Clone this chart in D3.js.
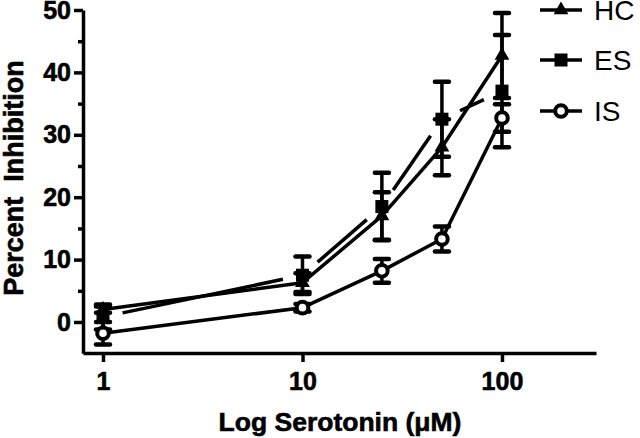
<!DOCTYPE html>
<html>
<head>
<meta charset="utf-8">
<script src="https://cdn.jsdelivr.net/npm/d3@7"></script>
<style>
  html, body { margin: 0; padding: 0; background: #fff; }
  svg { display: block; }
  text { font-family: "Liberation Sans", Arial, Helvetica, sans-serif; }
</style>
</head>
<body>
<svg id="chart" width="640" height="438"></svg>
<script>
// ---- data ----
const concentrations = [1, 10, 25, 50, 100];
const hcMean = [2.0, 6.3, 17.0, 28.0, 42.7];
const hcErr  = [0.5, 1.5, 3.8, 4.5, 6.8];
const esMean = [0.8, 7.5, 18.5, 32.5, 37.0];
const esErr  = [2.0, 3.0, 5.4, 6.0, 9.0];
const isMean = [-1.8, 2.3, 8.2, 13.3, 32.7];
const isErr  = [1.8, 0.6, 1.9, 2.0, 2.2];
const seriesNames = ["HC", "ES", "IS"];
const xTicks = [1, 10, 100];
const yTicks = [0, 10, 20, 30, 40, 50];
const yMinorTicks = [5, 15, 25, 35, 45];
const xTitle = "Log Serotonin (\u03BCM)";
const yTitle = "Percent\u00A0\u00A0Inhibition";

// ---- layout ----
const svg = d3.select("#chart");
svg.append("rect").attr("width", 640).attr("height", 438).attr("fill", "#fff");

const x = d3.scaleLog().domain([0.794, 296]).range([83, 596]);
const y = d3.scaleLinear().domain([-5, 50]).range([353.2, 10]);

const SW = 3.5;

// axes
svg.append("g").attr("transform", "translate(83,0)")
  .call(d3.axisLeft(y).tickValues(yTicks).tickSize(9).tickSizeOuter(0).tickPadding(3).tickFormat(d3.format("d")));
const yMinor = svg.append("g").attr("transform", "translate(83,0)")
  .call(d3.axisLeft(y).tickValues(yMinorTicks).tickSize(5).tickSizeOuter(0).tickFormat(""));
yMinor.select(".domain").remove();
svg.append("g").attr("transform", "translate(0,353)")
  .call(d3.axisBottom(x).tickValues(xTicks).tickSize(9).tickSizeOuter(0).tickPadding(10).tickFormat(d3.format("d")));

svg.selectAll(".domain").attr("stroke", "#000").attr("stroke-width", SW);
svg.selectAll(".tick line").attr("stroke", "#000").attr("stroke-width", SW);
svg.selectAll(".tick text").attr("fill", "#000").attr("font-size", 25).attr("font-weight", "bold")
  .attr("stroke", "#000").attr("stroke-width", 0.6)
  .attr("font-family", "'Liberation Sans', Arial, sans-serif");

// titles
svg.append("text").attr("x", 340).attr("y", 430.5).attr("text-anchor", "middle")
  .attr("font-size", 26.5).attr("font-weight", "bold").attr("stroke", "#000").attr("stroke-width", 0.6)
  .text(xTitle);
svg.append("text").attr("transform", "translate(22.5,178) rotate(-90)").attr("text-anchor", "middle")
  .attr("font-size", 27).attr("font-weight", "bold").attr("stroke", "#000").attr("stroke-width", 0.6)
  .text(yTitle);

// series
const series = [
  { name: seriesNames[0], mean: hcMean, err: hcErr, marker: "triangle", dashed: false },
  { name: seriesNames[1], mean: esMean, err: esErr, marker: "square", dashed: true },
  { name: seriesNames[2], mean: isMean, err: isErr, marker: "circle", dashed: false }
];

function drawMarker(g, type, cx, cy) {
  if (type === "triangle") {
    g.append("path").attr("d", d3.symbol().type(d3.symbolTriangle).size(95)())
      .attr("transform", `translate(${cx},${cy})`).attr("fill", "#000");
  } else if (type === "square") {
    g.append("rect").attr("x", cx - 6.5).attr("y", cy - 6.5).attr("width", 13).attr("height", 13).attr("fill", "#000");
  } else {
    g.append("circle").attr("cx", cx).attr("cy", cy).attr("r", 5.8)
      .attr("fill", "#fff").attr("stroke", "#000").attr("stroke-width", 4);
  }
}

const plot = svg.append("g");
series.forEach(s => {
  const pts = concentrations.map((c, i) => [x(c), y(s.mean[i])]);
  const g = plot.append("g");
  if (!s.dashed) {
    g.append("path").attr("d", d3.line()(pts)).attr("fill", "none")
      .attr("stroke", "#000").attr("stroke-width", SW).attr("stroke-linejoin", "round");
  } else {
    const gap = 20;
    for (let i = 0; i < pts.length - 1; i++) {
      const [x1, y1] = pts[i], [x2, y2] = pts[i + 1];
      const L = Math.hypot(x2 - x1, y2 - y1);
      const ux = (x2 - x1) / L, uy = (y2 - y1) / L;
      g.append("line")
        .attr("x1", x1 + ux * gap).attr("y1", y1 + uy * gap)
        .attr("x2", x2 - ux * gap).attr("y2", y2 - uy * gap)
        .attr("stroke", "#000").attr("stroke-width", SW);
    }
  }
  // error bars
  concentrations.forEach((c, i) => {
    const cx = x(c);
    const yt = y(s.mean[i] + s.err[i]), yb = y(s.mean[i] - s.err[i]);
    g.append("line").attr("x1", cx).attr("x2", cx).attr("y1", yt).attr("y2", yb)
      .attr("stroke", "#000").attr("stroke-width", SW);
    [yt, yb].forEach(yy => {
      g.append("line").attr("x1", cx - 7).attr("x2", cx + 7).attr("y1", yy).attr("y2", yy)
        .attr("stroke", "#000").attr("stroke-width", 4.5).attr("stroke-linecap", "round");
    });
  });
  pts.forEach(p => drawMarker(g, s.marker, p[0], p[1]));
});

// legend
const legendY = [10, 60, 111];
series.forEach((s, i) => {
  const g = svg.append("g");
  const ly = legendY[i];
  g.append("line").attr("x1", 540).attr("x2", 582).attr("y1", ly).attr("y2", ly)
    .attr("stroke", "#000").attr("stroke-width", SW);
  drawMarker(g, s.marker, 561, ly);
  g.append("text").attr("x", 594).attr("y", ly + 10).attr("font-size", 28).text(s.name);
});
</script>
</body>
</html>
